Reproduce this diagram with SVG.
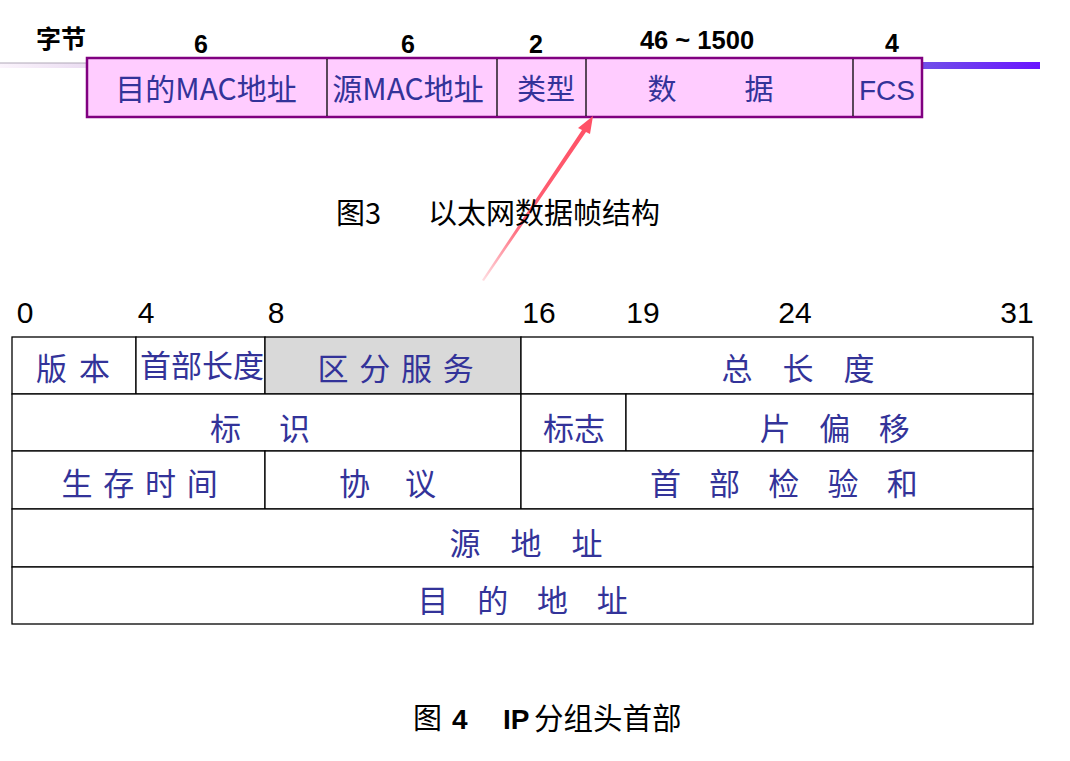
<svg xmlns="http://www.w3.org/2000/svg" width="1070" height="761" viewBox="0 0 1070 761">
<defs>
<linearGradient id="barR" x1="0" x2="1" y1="0" y2="0"><stop offset="0" stop-color="#7050E8"/><stop offset="1" stop-color="#6A14FF"/></linearGradient>
<linearGradient id="barL" x1="0" x2="1" y1="0" y2="0"><stop offset="0" stop-color="#FBF4FC"/><stop offset="1" stop-color="#EBDDF2"/></linearGradient>
<linearGradient id="arr" x1="483" y1="280" x2="592" y2="117" gradientUnits="userSpaceOnUse"><stop offset="0" stop-color="#FF5065" stop-opacity="0.2"/><stop offset="0.35" stop-color="#FF5065" stop-opacity="0.9"/><stop offset="1" stop-color="#FF5065"/></linearGradient>
</defs>
<style>
.f{font-family:"Liberation Sans","Noto Sans CJK SC",sans-serif}
.c{font-family:"Noto Sans CJK SC","Liberation Sans",sans-serif}
.bl{fill:#333399}
.hd{font-weight:bold;fill:#000}
.cell{fill:#FFFFFF;stroke:#000;stroke-width:1.3}
.fr{fill:#FFCCFF;stroke:#800080;stroke-width:2.5}
.dv{stroke:#000;stroke-width:1.3}
.num{fill:#000}
</style>
<rect width="1070" height="761" fill="#FFFFFF"/>
<g id="ethernet-frame">
<rect x="0" y="63" width="87" height="5" fill="url(#barL)"/>
<line x1="0" y1="63" x2="87" y2="63" stroke="#B0A8B8" stroke-width="1"/>
<rect x="922" y="62" width="118" height="7" fill="url(#barR)"/>
<rect class="fr" x="87" y="58" width="835" height="59"/>
<line class="dv" x1="327" y1="59" x2="327" y2="116"/>
<line class="dv" x1="497" y1="59" x2="497" y2="116"/>
<line class="dv" x1="586" y1="59" x2="586" y2="116"/>
<line class="dv" x1="853" y1="59" x2="853" y2="116"/>
<text class="c bl" font-size="30" x="206" y="100" text-anchor="middle">目的MAC地址</text>
<text class="c bl" font-size="30" x="408" y="100" text-anchor="middle">源MAC地址</text>
<text class="c bl" font-size="29" x="546" y="100" text-anchor="middle">类型</text>
<text class="c bl" font-size="29" x="662" y="100" text-anchor="middle">数</text>
<text class="c bl" font-size="29" x="759" y="100" text-anchor="middle">据</text>
<text class="f bl" font-size="28" x="887" y="100" text-anchor="middle">FCS</text>
</g>
<g id="byte-labels">
<text class="c hd" font-size="25" x="61" y="48" text-anchor="middle">字节</text>
<text class="f hd" font-size="25" x="201" y="53" text-anchor="middle">6</text>
<text class="f hd" font-size="25" x="408" y="53" text-anchor="middle">6</text>
<text class="f hd" font-size="25" x="536" y="53" text-anchor="middle">2</text>
<text class="f hd" font-size="25.5" x="697" y="49" text-anchor="middle">46 ~ 1500</text>
<text class="f hd" font-size="25" x="892" y="52" text-anchor="middle">4</text>
</g>
<g id="connectors">
<polygon points="482,280 484,281 586,132 590,134 593,116 578,128 582,130" fill="url(#arr)"/>
</g>
<g id="caption3">
<text class="c" font-size="29" fill="#000" x="336" y="224">图3</text>
<text class="c" font-size="29" fill="#000" x="428" y="224">以太网数据帧结构</text>
</g>
<g id="bit-labels">
<text class="f num" font-size="30" x="25" y="323" text-anchor="middle">0</text>
<text class="f num" font-size="30" x="146" y="323" text-anchor="middle">4</text>
<text class="f num" font-size="30" x="276" y="323" text-anchor="middle">8</text>
<text class="f num" font-size="30" x="539" y="323" text-anchor="middle">16</text>
<text class="f num" font-size="30" x="643" y="323" text-anchor="middle">19</text>
<text class="f num" font-size="30" x="795" y="323" text-anchor="middle">24</text>
<text class="f num" font-size="30" x="1017" y="323" text-anchor="middle">31</text>
</g>
<g id="ip-header">
<rect class="cell" x="12" y="337" width="124" height="57"/>
<rect class="cell" x="136" y="337" width="129" height="57"/>
<rect class="cell" x="265" y="337" width="256" height="57" style="fill:#D9D9D9"/>
<rect class="cell" x="521" y="337" width="512" height="57"/>
<rect class="cell" x="12" y="394" width="509" height="57"/>
<rect class="cell" x="521" y="394" width="105" height="57"/>
<rect class="cell" x="626" y="394" width="407" height="57"/>
<rect class="cell" x="12" y="451" width="253" height="58"/>
<rect class="cell" x="265" y="451" width="256" height="58"/>
<rect class="cell" x="521" y="451" width="512" height="58"/>
<rect class="cell" x="12" y="509" width="1021" height="58"/>
<rect class="cell" x="12" y="567" width="1021" height="57"/>
<text class="c bl" font-size="31" x="79" y="380" text-anchor="middle" letter-spacing="12">版本</text>
<text class="c bl" font-size="31" x="202" y="377" text-anchor="middle">首部长度</text>
<text class="c bl" font-size="31" x="401" y="380" text-anchor="middle" letter-spacing="10.7">区分服务</text>
<text class="c bl" font-size="31" x="813" y="380" text-anchor="middle" letter-spacing="30">总长度</text>
<text class="c bl" font-size="31" x="279" y="440" text-anchor="middle" letter-spacing="38">标识</text>
<text class="c bl" font-size="31" x="574" y="440" text-anchor="middle">标志</text>
<text class="c bl" font-size="31" x="849" y="440" text-anchor="middle" letter-spacing="28.5">片偏移</text>
<text class="c bl" font-size="31" x="145" y="495" text-anchor="middle" letter-spacing="10.7">生存时间</text>
<text class="c bl" font-size="31" x="405" y="495" text-anchor="middle" letter-spacing="35">协议</text>
<text class="c bl" font-size="31" x="798" y="495" text-anchor="middle" letter-spacing="28.25">首部检验和</text>
<text class="c bl" font-size="31" x="541" y="555" text-anchor="middle" letter-spacing="30">源地址</text>
<text class="c bl" font-size="31" x="537" y="612" text-anchor="middle" letter-spacing="28.7">目的地址</text>
</g>
<g id="caption4">
<text class="c" font-size="29" fill="#000" x="413" y="729">图</text>
<text class="f" font-size="28" font-weight="bold" fill="#000" x="452" y="729">4</text>
<text class="f" font-size="28" font-weight="bold" fill="#000" x="503" y="729">IP</text>
<text class="c" font-size="29.5" fill="#000" x="534" y="729">分组头首部</text>
</g>
</svg>
